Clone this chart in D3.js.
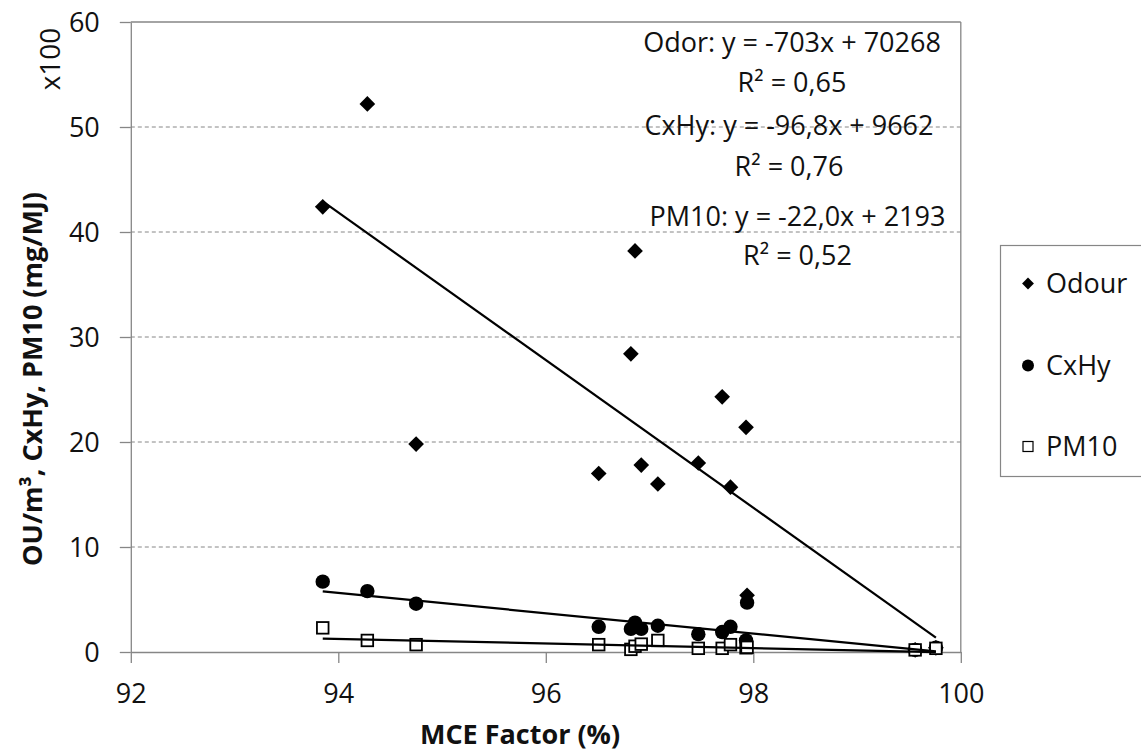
<!DOCTYPE html>
<html>
<head>
<meta charset="utf-8">
<script src="https://cdn.jsdelivr.net/npm/d3@7"></script>
<style>
  html, body { margin: 0; padding: 0; background: #fff; }
  svg { display: block; font-family: "Open Sans", "Noto Sans", sans-serif; }
</style>
</head>
<body>
<svg id="chart" width="1141" height="753"></svg>
<script>
// MCE factor (%) of each test
const mce = [93.85, 94.28, 94.75, 96.51, 96.82, 96.86, 96.92, 97.08, 97.47, 97.70, 97.78, 97.93, 97.94, 99.56, 99.76];
// Emission values, shown in units of 100
const odour = [42.4, 52.2, 19.8, 17.0, 28.4, 38.2, 17.8, 16.0, 18.0, 24.3, 15.7, 21.4, 5.4, 0.2, 0.4];
const cxhy  = [6.7, 5.8, 4.6, 2.4, 2.2, 2.8, 2.2, 2.5, 1.7, 1.9, 2.4, 1.1, 4.7, 0.2, 0.4];
const pm10  = [2.3, 1.1, 0.7, 0.7, 0.25, 0.55, 0.75, 1.1, 0.35, 0.35, 0.7, 0.4, 0.45, 0.2, 0.35];

const seriesNames = ["Odour", "CxHy", "PM10"];
// Linear trend lines (y in original units, x in %)
const trendSlope = [-703, -96.8, -22.0];
const trendIntercept = [70268, 9662, 2193];
const trendEquation = ["Odor: y = -703x + 70268", "CxHy: y = -96,8x + 9662", "PM10: y = -22,0x + 2193"];
const trendR2 = ["R² = 0,65", "R² = 0,76", "R² = 0,52"];
const displayFactor = 100;

const xTicks = [92, 94, 96, 98, 100];
const yTicks = [0, 10, 20, 30, 40, 50, 60];

const axisColor = "#868686";
const svg = d3.select("#chart");
svg.append("rect").attr("width", 1141).attr("height", 753).attr("fill", "#fff");

const x = d3.scaleLinear().domain([92, 100]).range([130.8, 960.8]);
const y = d3.scaleLinear().domain([0, 60]).range([652, 22]);

// dashed horizontal gridlines
svg.append("g").selectAll("line")
  .data(yTicks.filter(t => t > 0 && t < 60))
  .join("line")
  .attr("x1", x(92)).attr("x2", x(100))
  .attr("y1", d => y(d)).attr("y2", d => y(d))
  .attr("stroke", axisColor).attr("stroke-width", 1)
  .attr("stroke-dasharray", "4,3");

// plot frame: top and right edges
svg.append("line").attr("x1", x(92)).attr("x2", x(100)).attr("y1", y(60)).attr("y2", y(60))
  .attr("stroke", axisColor).attr("stroke-width", 1.3);
svg.append("line").attr("x1", x(100)).attr("x2", x(100)).attr("y1", y(60)).attr("y2", y(0))
  .attr("stroke", axisColor).attr("stroke-width", 1.3);

// axes
const yAxis = svg.append("g").attr("transform", `translate(${x(92)},0)`)
  .call(d3.axisLeft(y).tickValues(yTicks).tickSize(11).tickSizeOuter(0).tickPadding(20));
const xAxis = svg.append("g").attr("transform", `translate(0,${y(0)})`)
  .call(d3.axisBottom(x).tickValues(xTicks).tickSize(11).tickSizeOuter(0).tickPadding(20));
[xAxis, yAxis].forEach(g => {
  g.selectAll("path.domain").attr("stroke", axisColor).attr("stroke-width", 1.3);
  g.selectAll(".tick line").attr("stroke", axisColor).attr("stroke-width", 1.3);
  g.selectAll(".tick text").attr("fill", "#111").attr("font-size", 27)
    .attr("font-family", "'Open Sans', sans-serif");
});
yAxis.selectAll(".tick text").attr("x", -31).attr("dy", "0.36em");
xAxis.selectAll(".tick text").attr("y", 51).attr("dy", 0);

// data series
const rows = mce.map((m, i) => ({ m, odour: odour[i], cxhy: cxhy[i], pm10: pm10[i] }));
const diamond = d3.symbol().type(d3.symbolSquare).size(123);

svg.append("g").selectAll("path")
  .data(rows).join("path")
  .attr("d", diamond())
  .attr("transform", d => `translate(${x(d.m)},${y(d.odour)}) rotate(45)`)
  .attr("fill", "#000");

svg.append("g").selectAll("circle")
  .data(rows).join("circle")
  .attr("cx", d => x(d.m)).attr("cy", d => y(d.cxhy)).attr("r", 7.2)
  .attr("fill", "#000");

svg.append("g").selectAll("rect")
  .data(rows).join("rect")
  .attr("x", d => x(d.m) - 5.8).attr("y", d => y(d.pm10) - 5.8)
  .attr("width", 11.6).attr("height", 11.6)
  .attr("fill", "#fff").attr("stroke", "#000").attr("stroke-width", 1.8);

// trend lines over the data range
const xMin = d3.min(mce), xMax = d3.max(mce);
const trendLine = d3.line().x(d => x(d[0])).y(d => y(d[1]));
svg.append("g").selectAll("path")
  .data(seriesNames.map((n, i) => [xMin, xMax].map(v => [v, (trendSlope[i] * v + trendIntercept[i]) / displayFactor])))
  .join("path")
  .attr("d", trendLine)
  .attr("fill", "none").attr("stroke", "#000").attr("stroke-width", 2.2);

// trend equations
const eqCenter = [792, 789, 797.5];
const eqBase = [[52, 92], [135, 176], [226, 265]];
const eqG = svg.append("g").attr("font-size", 27).attr("fill", "#111").attr("text-anchor", "middle");
seriesNames.forEach((n, i) => {
  eqG.append("text").attr("x", eqCenter[i]).attr("y", eqBase[i][0]).text(trendEquation[i]);
  eqG.append("text").attr("x", eqCenter[i]).attr("y", eqBase[i][1]).text(trendR2[i]);
});

// axis titles
svg.append("text")
  .attr("transform", "translate(42,379) rotate(-90)")
  .attr("text-anchor", "middle").attr("font-size", 27).attr("font-weight", "bold").attr("fill", "#111")
  .text("OU/m³, CxHy, PM10 (mg/MJ)");
svg.append("text")
  .attr("transform", "translate(60,59) rotate(-90)")
  .attr("text-anchor", "middle").attr("font-size", 28).attr("fill", "#111")
  .text("x100");
svg.append("text")
  .attr("x", 520).attr("y", 744)
  .attr("text-anchor", "middle").attr("font-size", 27).attr("font-weight", "bold").attr("fill", "#111")
  .text("MCE Factor (%)");

// legend
const legend = svg.append("g");
legend.append("rect").attr("x", 1000.5).attr("y", 245.5).attr("width", 150).attr("height", 231)
  .attr("fill", "#fff").attr("stroke", axisColor).attr("stroke-width", 1.2);
const legBase = [293, 375, 456];
const legItems = legend.selectAll("g.item").data(seriesNames).join("g")
  .attr("class", "item")
  .attr("transform", (d, i) => `translate(0,${legBase[i]})`);
legItems.append("text").attr("x", 1046).attr("y", 0).attr("font-size", 27).attr("fill", "#111").text(d => d);
legItems.each(function (d, i) {
  const g = d3.select(this);
  if (i === 0) {
    g.append("path").attr("d", d3.symbol().type(d3.symbolSquare).size(70)())
      .attr("transform", "translate(1028,-9.5) rotate(45)").attr("fill", "#000");
  } else if (i === 1) {
    g.append("circle").attr("cx", 1028).attr("cy", -9.5).attr("r", 6).attr("fill", "#000");
  } else {
    g.append("rect").attr("x", 1023).attr("y", -14.5).attr("width", 10).attr("height", 10)
      .attr("fill", "#fff").attr("stroke", "#000").attr("stroke-width", 1.2);
  }
});
</script>
</body>
</html>
